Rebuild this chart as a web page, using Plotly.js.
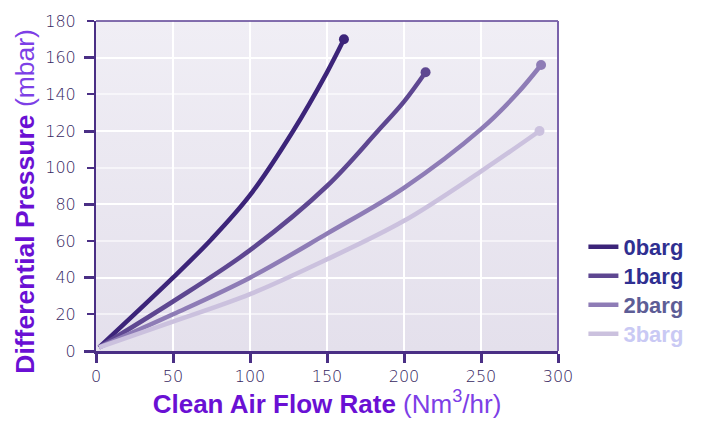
<!DOCTYPE html>
<html>
<head>
<meta charset="utf-8">
<script src="https://cdn.plot.ly/plotly-3.0.1.min.js"></script>
<style>
html,body{margin:0;padding:0;background:#fff;}
#chart{width:706px;height:421px;}
</style>
</head>
<body>
<div id="chart"></div>
<script>
// ---- data ----
const seriesNames = ["0barg", "1barg", "2barg", "3barg"];

const flow0 = [2, 50, 75, 100, 128, 150, 161];
const dp0   = [2, 40, 61, 85, 120, 152, 170];

const flow1 = [2, 50, 100, 150, 183, 200, 214];
const dp1   = [2, 27, 55, 90, 120, 136, 152];

const flow2 = [2, 50, 100, 150, 200, 250, 273, 289];
const dp2   = [2, 20, 40, 64, 89, 121, 140, 156];

const flow3 = [2, 50, 100, 150, 200, 250, 288];
const dp3   = [2, 16, 31, 50, 71, 98, 120];

const xTicks = [0, 50, 100, 150, 200, 250, 300];
const yTicks = [0, 20, 40, 60, 80, 100, 120, 140, 160, 180];

const xTitle = '<b>Clean Air Flow Rate</b> <span style="color:#7d3fe6">(Nm<sup>3</sup>/hr)</span>';
const yTitle = '<b>Differential Pressure</b> <span style="color:#7d3fe6">(mbar)</span>';

// ---- styling ----
const lineColors = ["#3c2479", "#5e4791", "#8e7cb6", "#cbc1de"];
const legendColors = ["#2f2f91", "#2f2f91", "#5d5d96", "#c9c9f4"];

const xs = [flow0, flow1, flow2, flow3];
const ys = [dp0, dp1, dp2, dp3];

const traces = [];
xs.forEach((x, i) => {
  traces.push({
    x: x, y: ys[i], type: "scatter", mode: "lines",
    line: {color: lineColors[i], width: 4.5, shape: "spline", smoothing: 1},
    name: '<span style="color:' + legendColors[i] + ';font-size:22px"><b>' + seriesNames[i] + '</b></span>',
    legendgroup: "g" + i,
    hoverinfo: "x+y"
  });
});
xs.forEach((x, i) => {
  traces.push({
    x: [x[x.length - 1]], y: [ys[i][ys[i].length - 1]], type: "scatter", mode: "markers",
    marker: {color: lineColors[i], size: 10},
    showlegend: false, hoverinfo: "skip"
  });
});
// invisible trace to carry the major-tick overlay axis
traces.push({x: [0], y: [0], yaxis: "y2", type: "scatter", mode: "markers",
  marker: {size: 0, opacity: 0}, showlegend: false, hoverinfo: "skip"});

const tickFont = {family: "DejaVu Sans, Verdana, sans-serif", size: 16, color: "#36275f", weight: 300};

const bgSvg = '<svg xmlns="http://www.w3.org/2000/svg" width="100" height="100" preserveAspectRatio="none">' +
  '<defs><linearGradient id="g" x1="0" y1="0" x2="0" y2="1">' +
  '<stop offset="0" stop-color="#f0eef5"/><stop offset="1" stop-color="#e4e0ec"/>' +
  '</linearGradient></defs><rect width="100" height="100" fill="url(#g)"/></svg>';

const layout = {
  width: 706, height: 421,
  margin: {l: 96, r: 148, t: 21, b: 70, pad: 0},
  paper_bgcolor: "#ffffff",
  plot_bgcolor: "#eae7f0",
  showlegend: true,
  legend: {
    x: 1.055, y: 0.375, xanchor: "left", yanchor: "top",
    font: {family: "Liberation Sans, Arial, sans-serif", size: 20},
    tracegroupgap: 0, itemwidth: 30, bgcolor: "rgba(0,0,0,0)"
  },
  images: [{
    source: "data:image/svg+xml;charset=utf-8," + encodeURIComponent(bgSvg),
    xref: "paper", yref: "paper", x: 0, y: 1, sizex: 1, sizey: 1,
    sizing: "stretch", layer: "below", xanchor: "left", yanchor: "top"
  }],
  xaxis: {
    range: [0, 300], tickvals: xTicks, ticktext: xTicks.map(String),
    showgrid: true, gridcolor: "#ffffff", gridwidth: 2,
    zeroline: false,
    showline: true, linecolor: "#4a2f85", linewidth: 3,
    ticks: "outside", ticklen: 9, tickwidth: 3, tickcolor: "#4a2f85",
    tickfont: tickFont,
    title: {
      text: xTitle,
      font: {family: "Liberation Sans, Arial, sans-serif", size: 26, color: "#6a10d4"},
      standoff: 8
    }
  },
  yaxis: {
    range: [0, 180], tickvals: yTicks, ticktext: yTicks.map(String),
    showgrid: true, gridcolor: "rgba(255,255,255,0.55)", gridwidth: 2,
    zeroline: false,
    showline: true, linecolor: "#4a2f85", linewidth: 2,
    ticks: "outside", ticklen: 7, tickwidth: 2, tickcolor: "#4a2f85",
    tickfont: tickFont, ticklabelstandoff: 8
  },
  yaxis2: {
    overlaying: "y", side: "left", range: [0, 180], dtick: 40, tick0: 0,
    showticklabels: false, showgrid: true, gridcolor: "#ffffff", gridwidth: 2,
    zeroline: false, showline: false,
    ticks: "outside", ticklen: 11, tickwidth: 3, tickcolor: "#4a2f85"
  },
  annotations: [{
    text: yTitle, textangle: -90, showarrow: false,
    xref: "paper", yref: "paper", x: -0.154, y: 0.455,
    xanchor: "center", yanchor: "middle",
    font: {family: "Liberation Sans, Arial, sans-serif", size: 26.5, color: "#6a10d4"}
  }],
  shapes: [
    {type: "line", xref: "paper", yref: "paper", x0: 0, x1: 1, y0: 1, y1: 1,
     line: {color: "#5b3f93", width: 1.5}},
    {type: "line", xref: "paper", yref: "paper", x0: 1, x1: 1, y0: 0, y1: 1,
     line: {color: "#7a62ab", width: 2}}
  ]
};

Plotly.newPlot("chart", traces, layout, {displayModeBar: false, staticPlot: true});
</script>
</body>
</html>
